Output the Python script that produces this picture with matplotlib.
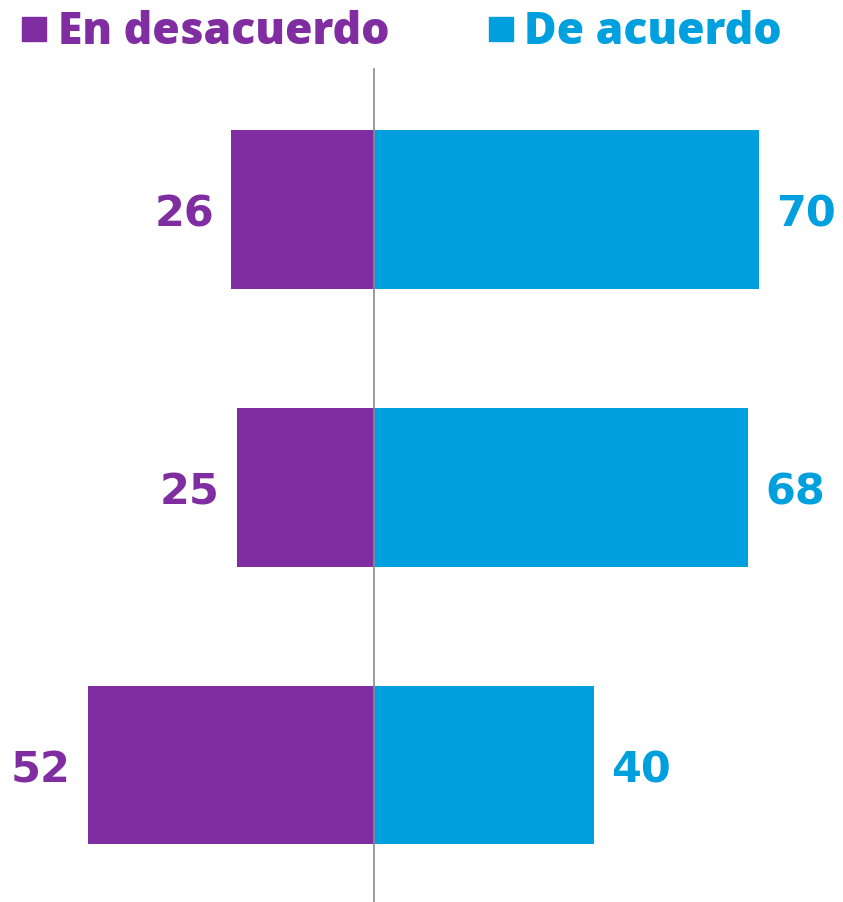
import matplotlib.pyplot as plt
from matplotlib.patches import Rectangle

# datos
filas = [0, 1, 2]
desacuerdo = [26, 25, 52]
acuerdo = [70, 68, 40]
etiquetas_leyenda = ["En desacuerdo", "De acuerdo"]

morado = "#7F2DA0"
azul = "#00A0DF"

W, H = 843, 903
fig = plt.figure(figsize=(W / 100, H / 100), dpi=100)
ax = fig.add_axes([0, 0, 1, 1])

# escala: 5.5 px por unidad, centro en x=374 px
esc = 5.5
x0 = 374
ax.set_xlim(-x0 / esc, (W - x0) / esc)
paso = 278
c0 = 210
ax.set_ylim((H - c0) / paso, -c0 / paso)
alto = 159 / paso

ax.barh(filas, [-d for d in desacuerdo], height=alto, color=morado)
ax.barh(filas, acuerdo, height=alto, color=azul)
ax.axvline(0, ymin=0, ymax=1 - 70 / H, color="#8a8a8a", lw=1.2)

fuente = ["DejaVu Sans"]
for y, d, a in zip(filas, desacuerdo, acuerdo):
    ax.text(-d - 17 / esc, y, str(d), ha="right", va="center_baseline",
            fontsize=31, fontweight="bold", color=morado, family=fuente)
    ax.text(a + 17 / esc, y, str(a), ha="left", va="center_baseline",
            fontsize=31, fontweight="bold", color=azul, family=fuente)
ax.axis("off")

# leyenda
fig.patches.append(Rectangle((22 / W, 1 - 42 / H), 24 / W, 24 / H,
                             transform=fig.transFigure, color=morado))
fig.patches.append(Rectangle((489 / W, 1 - 42 / H), 24 / W, 24 / H,
                             transform=fig.transFigure, color=azul))
fig.text(58 / W, 1 - 44 / H, etiquetas_leyenda[0], fontsize=32, fontweight=800,
         color=morado, family=["Open Sans"], va="baseline")
fig.text(524 / W, 1 - 44 / H, etiquetas_leyenda[1], fontsize=32, fontweight=800,
         color=azul, family=["Open Sans"], va="baseline")

fig.savefig("out.png", dpi=100)
